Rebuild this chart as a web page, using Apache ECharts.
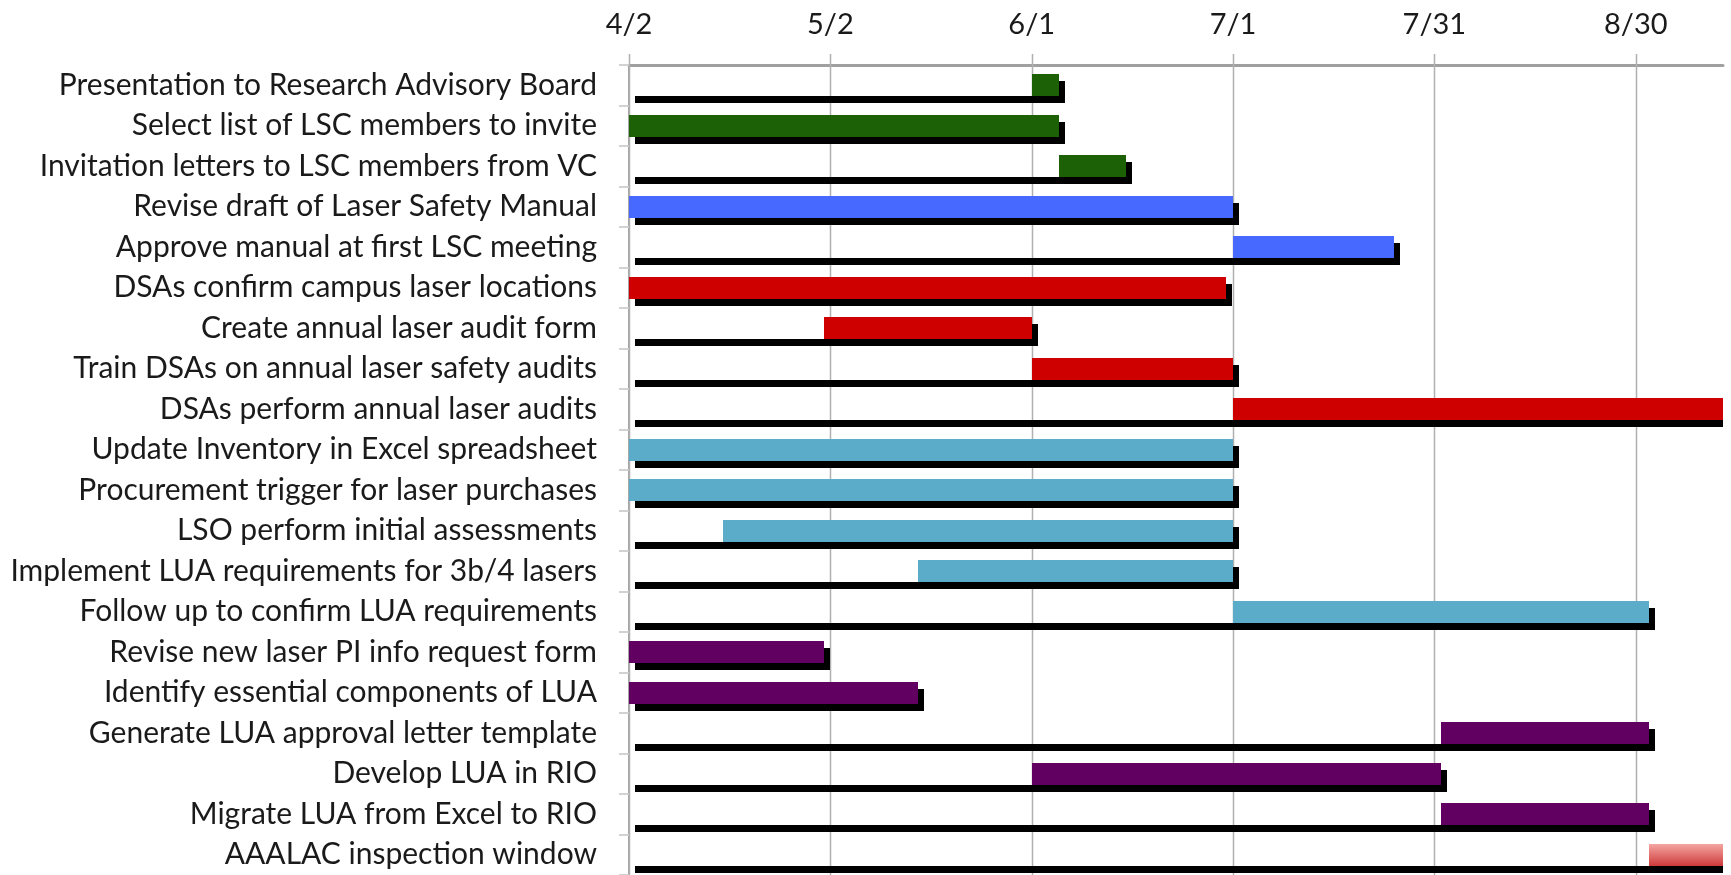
<!DOCTYPE html>
<html>
<head>
<meta charset="utf-8">
<title>Laser Safety Program Schedule</title>
<script src="https://cdn.jsdelivr.net/npm/echarts@6/dist/echarts.min.js"></script>
<style>
  html, body { margin: 0; padding: 0; background: #ffffff; }
  #chart { width: 1731px; height: 875px; }
</style>
</head>
<body>
<div id="chart"></div>
<script>
// Task list, top to bottom
const tasks = [
  'Presentation to Research Advisory Board',
  'Select list of LSC members to invite',
  'Invitation letters to LSC members from VC',
  'Revise draft of Laser Safety Manual',
  'Approve manual at first LSC meeting',
  'DSAs confirm campus laser locations',
  'Create annual laser audit form',
  'Train DSAs on annual laser safety audits',
  'DSAs perform annual laser audits',
  'Update Inventory in Excel spreadsheet',
  'Procurement trigger for laser purchases',
  'LSO perform initial assessments',
  'Implement LUA requirements for 3b/4 lasers',
  'Follow up to confirm LUA requirements',
  'Revise new laser PI info request form',
  'Identify essential components of LUA',
  'Generate LUA approval letter template',
  'Develop LUA in RIO',
  'Migrate LUA from Excel to RIO',
  'AAALAC inspection window'
];

// Start and end of each task, in days counted from 4/2
const startDay = [60, 0, 64, 0, 90, 0, 29, 60, 90, 0, 0, 14, 43, 90, 0, 0, 121, 60, 121, 152];
const endDay   = [64, 64, 74, 90, 114, 89, 60, 90, 163, 90, 90, 90, 90, 152, 29, 43, 152, 121, 152, 163];

// Work stream each task belongs to
const taskGroup = [
  'committee', 'committee', 'committee',
  'manual', 'manual',
  'audit', 'audit', 'audit', 'audit',
  'inventory', 'inventory', 'inventory', 'inventory', 'inventory',
  'lua', 'lua', 'lua', 'lua', 'lua',
  'inspection'
];

// Date axis: ticks every 30 days from 4/2
const tickDays = [0, 30, 60, 90, 120, 150];
const tickLabels = ['4/2', '5/2', '6/1', '7/1', '7/31', '8/30'];
const axisEndDay = 163;

const palette = {
  committee: '#1d6107',
  manual: '#4769ff',
  audit: '#cf0000',
  inventory: '#5aacc8',
  lua: '#620061',
  inspection: new echarts.graphic.LinearGradient(0, 0, 0, 1, [
    { offset: 0, color: '#f5a6a2' },
    { offset: 1, color: '#cd3a3a' }
  ])
};

const FONT = 'Lato, "Open Sans", sans-serif';
const TEXT = '#1a1a1a';

const chart = echarts.init(document.getElementById('chart'), null, { renderer: 'canvas' });

const taskData = tasks.map((name, i) => [i, startDay[i], endDay[i]]);

chart.setOption({
  backgroundColor: '#ffffff',
  animation: false,
  grid: { left: 629, right: 8, top: 65, bottom: -3, containLabel: false },
  xAxis: {
    type: 'value',
    position: 'top',
    min: 0,
    max: axisEndDay,
    interval: 30,
    axisLine: { show: true, lineStyle: { color: '#a0a0a0', width: 3 } },
    axisTick: { show: false },
    splitLine: { show: false },
    axisLabel: {
      margin: 26,
      fontFamily: FONT,
      fontSize: 29,
      color: TEXT,
      formatter: v => {
        const k = tickDays.indexOf(v);
        return k >= 0 ? tickLabels[k] : '';
      }
    }
  },
  yAxis: {
    type: 'category',
    inverse: true,
    data: tasks,
    axisLine: { show: true, lineStyle: { color: '#a3a3a3', width: 2 } },
    axisTick: { show: true, length: 10, lineStyle: { color: '#d2d2d2', width: 2 } },
    splitLine: { show: false },
    axisLabel: {
      margin: 32,
      fontFamily: FONT,
      fontSize: 30,
      color: TEXT
    }
  },
  series: [
    {
      // vertical date gridlines with their small ticks above the axis
      type: 'custom',
      silent: true,
      z: 1,
      clip: false,
      encode: { x: 0 },
      data: tickDays.map(d => [d]),
      renderItem: (params, api) => {
        const cs = params.coordSys;
        const x = Math.round(api.coord([api.value(0), 0])[0]) + 0.5;
        return {
          type: 'line',
          shape: { x1: x, y1: cs.y - 11, x2: x, y2: cs.y + cs.height },
          style: { stroke: '#b0b0b0', lineWidth: 1.5 }
        };
      }
    },
    {
      // task bars; the whole span from the axis start casts a solid black
      // offset shadow that shows only below and to the right of it
      type: 'custom',
      silent: true,
      z: 3,
      clip: false,
      encode: { x: [1, 2], y: 0 },
      data: taskData,
      renderItem: (params, api) => {
        const cs = params.coordSys;
        const row = api.value(0);
        const s = api.coord([api.value(1), row]);
        const e = api.coord([api.value(2), row]);
        const o = api.coord([0, row]);
        const h = Math.round(api.size([0, 1])[1] * 0.55);
        const top = Math.round(s[1] - h / 2);
        const dx = 6, dy = 7;
        const right = Math.round(cs.x + cs.width);
        const ox = Math.round(o[0]);
        const bx = Math.round(s[0]);
        const ex = Math.round(e[0]);
        const shEnd = Math.min(ex + dx, right);
        const fill = palette[taskGroup[params.dataIndex]];
        const children = [
          {
            type: 'rect',
            shape: { x: ox + dx, y: top + h, width: shEnd - (ox + dx), height: dy },
            style: { fill: '#000000' }
          }
        ];
        if (shEnd > ex) {
          children.push({
            type: 'rect',
            shape: { x: ex, y: top + dy, width: shEnd - ex, height: h - dy },
            style: { fill: '#000000' }
          });
        }
        children.push({
          type: 'rect',
          shape: { x: bx, y: top, width: ex - bx, height: h },
          style: { fill: fill }
        });
        return { type: 'group', children: children };
      }
    }
  ]
});
</script>
</body>
</html>
